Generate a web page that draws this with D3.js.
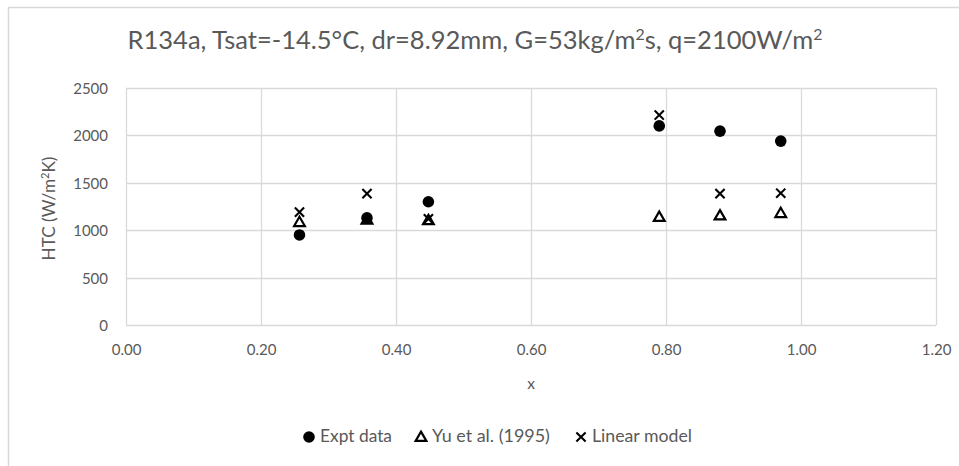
<!DOCTYPE html>
<html>
<head>
<meta charset="utf-8">
<script src="https://cdn.jsdelivr.net/npm/d3@7/dist/d3.min.js"></script>
<style>
  html, body { margin: 0; padding: 0; background: #fff; }
  svg { display: block; }
  text { font-family: Lato, "Open Sans", "Liberation Sans", sans-serif; fill: #595959; }
</style>
</head>
<body>
<svg id="chart" width="959" height="466"></svg>
<script>
// Vapour quality values where heat transfer coefficients were measured
const quality = [0.257, 0.357, 0.448, 0.79, 0.88, 0.97];
// Heat transfer coefficient, W/m²K
const exptData = [950, 1130, 1300, 2100, 2045, 1940];
const yuModel = [1085, 1110, 1105, 1140, 1155, 1180];
const linearModel = [1190, 1385, 1120, 2215, 1385, 1390];

const xTicks = [0, 0.2, 0.4, 0.6, 0.8, 1.0, 1.2];
const yTicks = [0, 500, 1000, 1500, 2000, 2500];
const seriesNames = ["Expt data", "Yu et al. (1995)", "Linear model"];

const svg = d3.select("#chart");
const grid = "#d9d9d9";
const fontFamily = 'Lato, "Open Sans", "Liberation Sans", sans-serif';

// Scale a text element's font so its rendered width equals the given width
function fitWidth(node, width) {
  const base = parseFloat(node.style.fontSize) || 14;
  const w = node.getComputedTextLength();
  if (w > 0) node.style.fontSize = (base * width / w).toFixed(2) + "px";
}

// Chart frame
svg.append("rect")
  .attr("x", 8.5).attr("y", 7.5)
  .attr("width", 980).attr("height", 480)
  .attr("fill", "#fff").attr("stroke", grid).attr("stroke-width", 1.5);

const plot = { left: 126, right: 936, top: 88, bottom: 325 };
const x = d3.scaleLinear().domain([0, 1.2]).range([plot.left, plot.right]);
const y = d3.scaleLinear().domain([0, 2500]).range([plot.bottom, plot.top]);

// Gridlines
svg.append("g").selectAll("line").data(yTicks).join("line")
  .attr("x1", plot.left).attr("x2", plot.right)
  .attr("y1", d => Math.round(y(d)) + 0.5).attr("y2", d => Math.round(y(d)) + 0.5)
  .attr("stroke", grid).attr("stroke-width", 1.3);
svg.append("g").selectAll("line").data(xTicks).join("line")
  .attr("x1", d => Math.round(x(d)) + 0.5).attr("x2", d => Math.round(x(d)) + 0.5)
  .attr("y1", plot.top).attr("y2", plot.bottom)
  .attr("stroke", grid).attr("stroke-width", 1.3);

// Axes (labels only, lines come from the grid)
const yAxis = svg.append("g").attr("transform", `translate(${plot.left - 18},0)`)
  .call(d3.axisLeft(y).tickValues(yTicks).tickSize(0).tickPadding(0).tickFormat(d3.format("d")));
const xAxis = svg.append("g").attr("transform", `translate(0,${plot.bottom + 19})`)
  .call(d3.axisBottom(x).tickValues(xTicks).tickSize(0).tickPadding(0).tickFormat(d3.format(".2f")));
[xAxis, yAxis].forEach(a => {
  a.select(".domain").remove();
  a.attr("font-size", null).attr("font-family", null);
  a.selectAll("text").attr("fill", "#595959")
    .style("font-family", fontFamily).style("font-size", "15px");
});
xAxis.selectAll("text").attr("dy", "0.71em");
yAxis.selectAll("text").attr("dy", "0.36em");

// Title
const title = svg.append("text").attr("x", 475).attr("y", 49)
  .attr("text-anchor", "middle").style("font-size", "21px");
title.append("tspan").text("R134a, Tsat=-14.5°C, dr=8.92mm, G=53kg/m");
title.append("tspan").attr("baseline-shift", "super").style("font-size", "0.62em").text("2");
title.append("tspan").text("s, q=2100W/m");
title.append("tspan").attr("baseline-shift", "super").style("font-size", "0.62em").text("2");
fitWidth(title.node(), 695);

// Axis titles
svg.append("text").attr("x", x(0.6)).attr("y", 389).attr("text-anchor", "middle")
  .style("font-size", "15.5px").text("x");
const yt = svg.append("text")
  .attr("transform", `translate(55,${(plot.top + plot.bottom) / 2 + 2}) rotate(-90)`)
  .attr("text-anchor", "middle").style("font-size", "15px");
yt.append("tspan").text("HTC (W/m");
yt.append("tspan").attr("baseline-shift", "super").style("font-size", "0.65em").text("2");
yt.append("tspan").text("K)");
fitWidth(yt.node(), 104);

// Marker painters
const drawCircle = (g, cx, cy) => g.append("circle").attr("cx", cx).attr("cy", cy).attr("r", 5.8).attr("fill", "#000");
const triPath = d3.symbol().type(d3.symbolTriangle).size(50);
const drawTri = (g, cx, cy) => g.append("path").attr("d", triPath()).attr("transform", `translate(${cx},${cy + 0.8})`)
  .attr("fill", "none").attr("stroke", "#000").attr("stroke-width", 2.2);
const drawX = (g, cx, cy) => {
  const s = 4.6;
  g.append("path").attr("d", `M${cx - s},${cy - s}L${cx + s},${cy + s}M${cx - s},${cy + s}L${cx + s},${cy - s}`)
    .attr("stroke", "#000").attr("stroke-width", 2.1).attr("fill", "none");
};

const series = [
  { values: exptData, draw: drawCircle },
  { values: yuModel, draw: drawTri },
  { values: linearModel, draw: drawX }
];

const marks = svg.append("g");
series.forEach(s => {
  s.values.forEach((v, i) => s.draw(marks, x(quality[i]), y(v)));
});

// Legend
const legendY = 437;
const legendPos = [309, 421, 581];
const legendWidths = [72, 118, 100];
const legend = svg.append("g");
series.forEach((s, i) => {
  s.draw(legend, legendPos[i], legendY);
  const t = legend.append("text").attr("x", legendPos[i] + 11).attr("y", legendY + 5)
    .style("font-size", "15px").text(seriesNames[i]);
  fitWidth(t.node(), legendWidths[i]);
});
</script>
</body>
</html>
